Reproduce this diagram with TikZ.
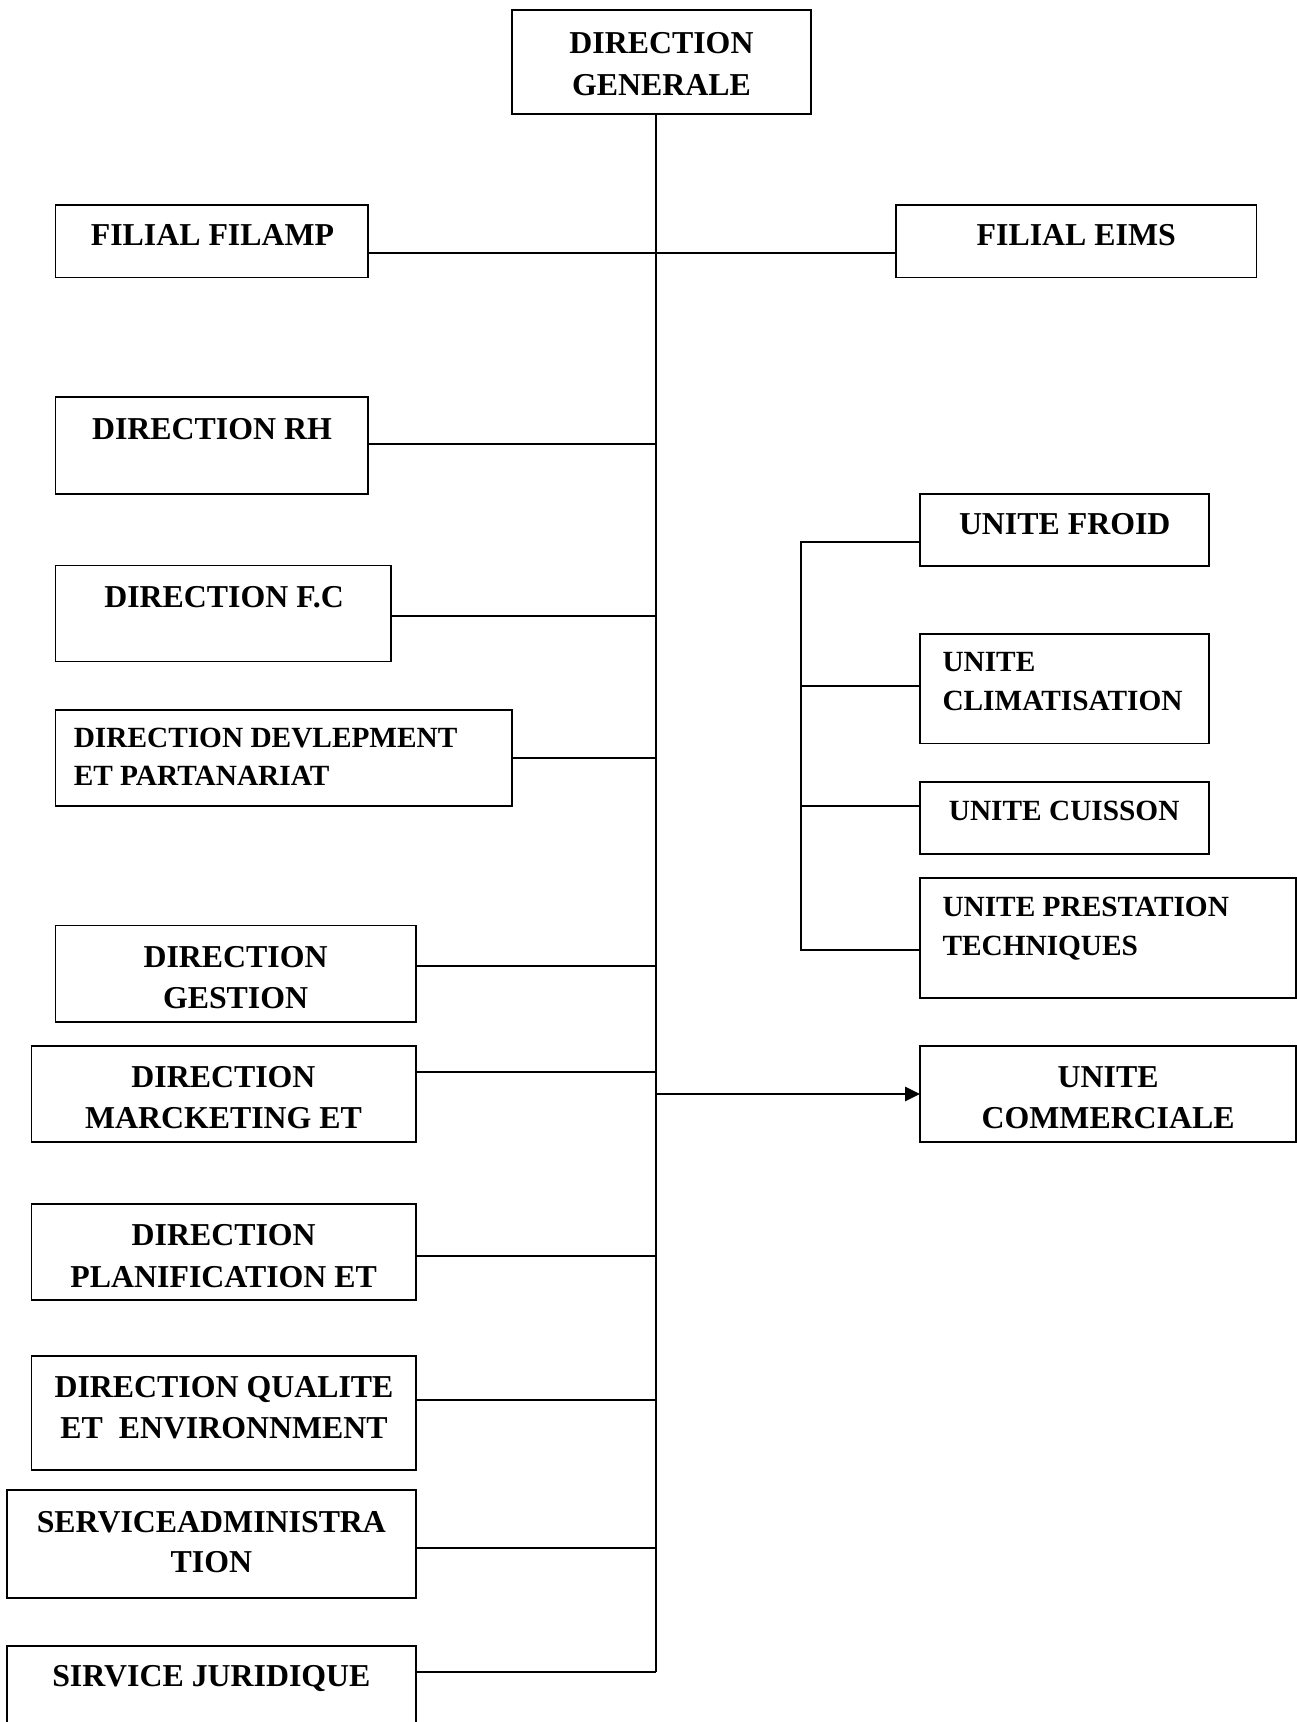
\documentclass[tikz,border=0pt]{standalone}
\usepackage{fontspec}
\setmainfont{Liberation Serif}
\usetikzlibrary{arrows.meta}
\newcommand\orgbig{\fontsize{29}{29}\selectfont\bfseries}
\newcommand\orgsmall{\fontsize{26.7}{26.7}\selectfont\bfseries}
\tikzset{
  orgbox/.style={draw, line width=1.6pt, inner sep=0pt, outer sep=0pt},
  big/.style={font=\orgbig, inner sep=0pt, anchor=base},
  small/.style={font=\orgsmall, inner sep=0pt, anchor=base west},
  smallc/.style={font=\orgsmall, inner sep=0pt, anchor=base},
  link/.style={line width=1.8pt},
  trunkline/.style={line width=1.3pt}
}
\begin{document}
\begin{tikzpicture}[x=1pt,y=-1pt]
\useasboundingbox (0,0) rectangle (1181,1568);
% boxes
\node[orgbox, minimum width=271.7pt, minimum height=95pt] (dg) at (602.35,56.6) {};
\node[orgbox, minimum width=284.8pt, minimum height=65.6pt] (filamp) at (193,219.8) {};
\node[orgbox, minimum width=328.4pt, minimum height=65.6pt] (eims) at (979.9,219.8) {};
\node[orgbox, minimum width=284.8pt, minimum height=87.8pt] (rh) at (193,405.6) {};
\node[orgbox, minimum width=305.6pt, minimum height=87.4pt] (fc) at (203.4,558.7) {};
\node[orgbox, minimum width=415.4pt, minimum height=87.4pt] (devl) at (258.3,690.2) {};
\node[orgbox, minimum width=328.3pt, minimum height=87.8pt] (gest) at (214.65,886.7) {};
\node[orgbox, minimum width=350.2pt, minimum height=87.1pt] (mark) at (203.7,996.15) {};
\node[orgbox, minimum width=350.2pt, minimum height=87.4pt] (plan) at (203.7,1140) {};
\node[orgbox, minimum width=350.2pt, minimum height=103.7pt] (qual) at (203.7,1286.65) {};
\node[orgbox, minimum width=372.3pt, minimum height=98.3pt] (sadm) at (192.65,1405.95) {};
\node[orgbox, minimum width=372.3pt, minimum height=81.5pt] (jur) at (192.65,1539.25) {};
\node[orgbox, minimum width=263pt, minimum height=65.5pt] (froid) at (969.1,482.35) {};
\node[orgbox, minimum width=263pt, minimum height=99.8pt] (clim) at (969.1,627.1) {};
\node[orgbox, minimum width=263pt, minimum height=65.9pt] (cuis) at (969.1,744.75) {};
\node[orgbox, minimum width=342.4pt, minimum height=109.5pt] (prest) at (1008.8,853.95) {};
\node[orgbox, minimum width=342.4pt, minimum height=87.1pt] (comm) at (1008.8,996.15) {};
% texts
\node[big] (dgA) at (602.35,48.3) {DIRECTION};
\node[big] (dgB) at (602.35,87) {GENERALE};
\node[big] (filampA) at (193.5,223.6) {FILIAL FILAMP};
\node[big] (eimsA) at (980,223.6) {FILIAL EIMS};
\node[big] (rhA) at (193,399.9) {DIRECTION RH};
\node[big] (fcA) at (204,553.4) {DIRECTION F.C};
\node[small] (devlA) at (67,681) {DIRECTION DEVLEPMENT};
\node[small] (devlB) at (67,715.5) {ET PARTANARIAT};
\node[big] (gestA) at (214.5,881) {DIRECTION};
\node[big] (gestB) at (214.5,918.6) {GESTION};
\node[big] (markA) at (203.5,989.8) {DIRECTION};
\node[big] (markB) at (203.5,1027.4) {MARCKETING ET};
\node[big] (commA) at (1009,989.8) {UNITE};
\node[big] (commB) at (1009,1027.4) {COMMERCIALE};
\node[big] (planA) at (203.7,1133.8) {DIRECTION};
\node[big] (planB) at (203.7,1172) {PLANIFICATION ET};
\node[big] (qualA) at (204,1272.6) {DIRECTION QUALITE};
\node[big] (qualB) at (204,1309.8) {ET\ \ ENVIRONNMENT};
\node[big] (sadmA) at (192.5,1395) {SERVICEADMINISTRA};
\node[big] (sadmB) at (192.5,1432.2) {TION};
\node[big] (jurA) at (192.5,1536.1) {SIRVICE JURIDIQUE};
\node[big] (froidA) at (969.5,486.6) {UNITE FROID};
\node[small] (climA) at (858,611.35) {UNITE};
\node[small] (climB) at (858,646.55) {CLIMATISATION};
\node[smallc] (cuisA) at (969,747.15) {UNITE CUISSON};
\node[small] (prestA) at (858,834.25) {UNITE PRESTATION};
\node[small] (prestB) at (858,869.85) {TECHNIQUES};
% trunk
\coordinate (ttop) at ([xshift=-5pt]dg.south);
\coordinate (tbot) at ([yshift=17.05pt]jur.east -| ttop);
\draw[trunkline] (ttop) -- (tbot);
% connectors
\draw[link] ([yshift=-10.9pt]filamp.east) -- ([yshift=-10.9pt]eims.west);
\draw[link] ([yshift=1.4pt]rh.east) -- ([yshift=1.4pt]rh.east -| ttop);
\draw[link] ([yshift=-1.9pt]fc.east) -- ([yshift=-1.9pt]fc.east -| ttop);
\draw[link] (devl.east) -- (devl.east -| ttop);
\draw[link] ([yshift=6.7pt]gest.east) -- ([yshift=6.7pt]gest.east -| ttop);
\draw[link] ([yshift=20.15pt]mark.east) -- ([yshift=20.15pt]mark.east -| ttop);
\draw[link] ([yshift=-3.5pt]plan.east) -- ([yshift=-3.5pt]plan.east -| ttop);
\draw[link] ([yshift=11.95pt]qual.east) -- ([yshift=11.95pt]qual.east -| ttop);
\draw[link] ([yshift=-3.35pt]sadm.east) -- ([yshift=-3.35pt]sadm.east -| ttop);
\draw[link] ([yshift=17.05pt]jur.east) -- (tbot);
\draw[link, -{Triangle[length=13.5pt,width=13pt]}] (comm.west -| ttop) -- (comm.west);
% units sub-branch
\draw[link] ([yshift=-10.75pt]froid.west) -- ++(-108.5,0) coordinate (sbtop)
  |- ([yshift=-11.05pt]prest.west);
\draw[link] ([yshift=2.9pt]clim.west) -- ([yshift=2.9pt]clim.west -| sbtop);
\draw[link] ([yshift=11.05pt]cuis.west) -- ([yshift=11.05pt]cuis.west -| sbtop);
\end{tikzpicture}
\end{document}
